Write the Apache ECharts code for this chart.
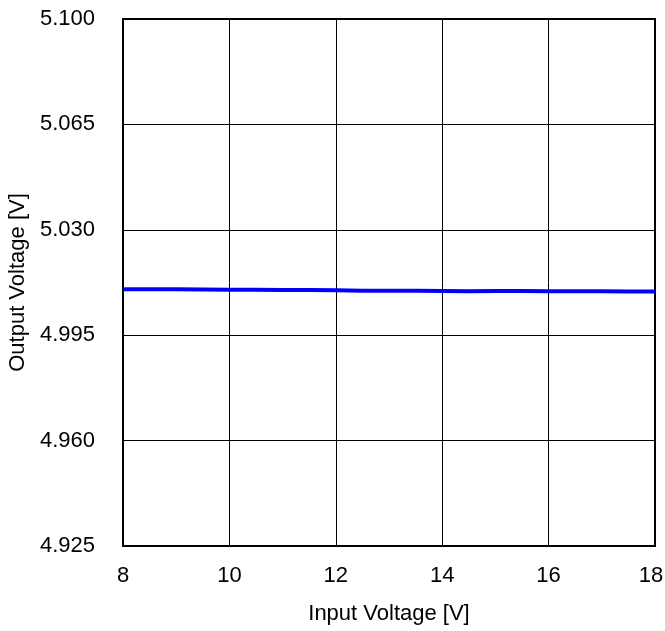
<!DOCTYPE html>
<html><head><meta charset="utf-8">
<script src="https://cdn.jsdelivr.net/npm/echarts@6/dist/echarts.min.js"></script>
<style>html,body{margin:0;padding:0;background:#fff}#c{width:665px;height:631px}</style>
</head><body><div id="c"></div>
<script>
const inputVoltage = [8,8.5,9,9.5,10,10.5,11,11.5,12,12.5,13,13.5,14,14.5,15,15.5,16,16.5,17,17.5,18];
const outputVoltage = [5.0103,5.0103,5.0103,5.0102,5.0101,5.0101,5.0100,5.0100,5.0099,5.0098,5.0098,5.0098,5.0097,5.0096,5.0097,5.0097,5.0096,5.0096,5.0096,5.0095,5.0095];
const xTicks = {min: 8, max: 18, interval: 2};
const yTicks = {min: 4.925, max: 5.100, interval: 0.035};

const chart = echarts.init(document.getElementById('c'), null, {renderer: 'canvas'});
const font = 'Liberation Sans, Arial, sans-serif';
chart.setOption({
  animation: false,
  backgroundColor: '#fff',
  grid: {left: 123, top: 19, right: 10, bottom: 85, containLabel: false, outerBoundsMode: 'none', show: true, borderColor: '#000', borderWidth: 2, backgroundColor: 'transparent'},
  xAxis: {
    type: 'value', min: xTicks.min, max: xTicks.max, interval: xTicks.interval,
    name: 'Input Voltage [V]', nameLocation: 'middle', nameGap: 57,
    nameTextStyle: {fontFamily: font, fontSize: 22, color: '#000'},
    axisLine: {show: true, lineStyle: {color: '#000', width: 2}},
    axisTick: {show: false},
    axisLabel: {fontFamily: font, fontSize: 22, color: '#000', margin: 19,
      formatter: v => v === xTicks.max ? '{m|' + v + '}' : String(v),
      rich: {m: {fontFamily: font, fontSize: 22, color: '#000', padding: [0, 8, 0, 0]}}},
    splitLine: {show: true, lineStyle: {color: '#000', width: 1}}
  },
  yAxis: {
    type: 'value', min: yTicks.min, max: yTicks.max, interval: yTicks.interval,
    name: 'Output Voltage [V]', nameLocation: 'middle', nameGap: 93,
    nameTextStyle: {fontFamily: font, fontSize: 22, color: '#000'},
    axisLine: {show: true, lineStyle: {color: '#000', width: 2}},
    axisTick: {show: false},
    axisLabel: {fontFamily: font, fontSize: 22, color: '#000', margin: 28, formatter: v => v.toFixed(3)},
    splitLine: {show: true, lineStyle: {color: '#000', width: 1}}
  },
  series: [{
    type: 'line', data: inputVoltage.map((x, i) => [x, outputVoltage[i]]),
    showSymbol: false, lineStyle: {color: '#0000ff', width: 4}, z: 5
  }]
});
</script></body></html>
